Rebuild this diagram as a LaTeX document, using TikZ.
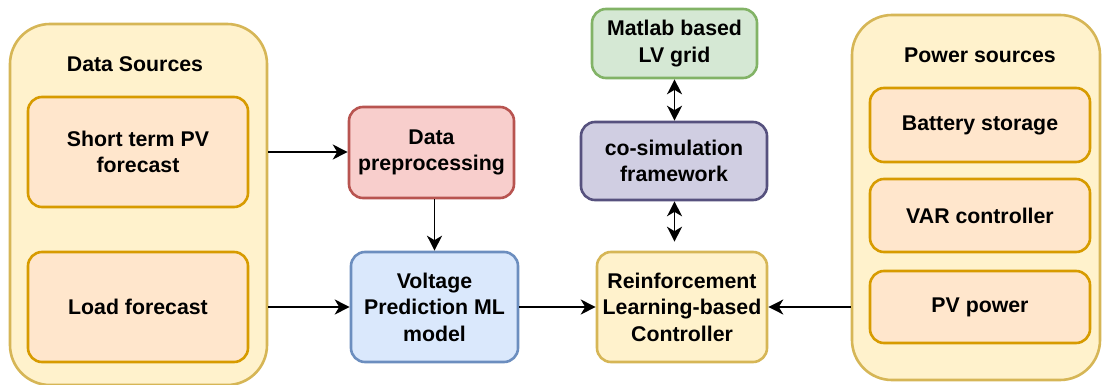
\documentclass[tikz,border=0pt]{standalone}
\usepackage{fontspec}
\setmainfont{Liberation Sans}
\usetikzlibrary{arrows.meta}
\definecolor{ylwfill}{HTML}{FFF2CC}\definecolor{ylwline}{HTML}{D6B656}
\definecolor{orgfill}{HTML}{FFE6CC}\definecolor{orgline}{HTML}{D79B00}
\definecolor{redfill}{HTML}{F8CECC}\definecolor{redline}{HTML}{B85450}
\definecolor{blufill}{HTML}{DAE8FC}\definecolor{bluline}{HTML}{6C8EBF}
\definecolor{grnfill}{HTML}{D5E8D4}\definecolor{grnline}{HTML}{82B366}
\definecolor{purfill}{HTML}{D0CEE2}\definecolor{purline}{HTML}{56517E}
\tikzset{
  blk/.style={rectangle, rounded corners=14pt, line width=2.6pt, inner sep=0pt,
    align=center, font=\fontsize{21.3}{26.5}\selectfont\bfseries},
  group/.style={blk, rounded corners=40pt, draw=ylwline, fill=ylwfill},
  item/.style={blk, draw=orgline, fill=orgfill},
  title/.style={inner sep=0pt, font=\fontsize{21.3}{26.5}\selectfont\bfseries},
  tip/.style={},
  arr/.style={line width=1.5pt, -{Stealth[length=15pt,width=15pt,inset=4.5pt]}},
  darr/.style={line width=1.5pt, {Stealth[length=15pt,width=15pt,inset=4.5pt]}-{Stealth[length=15pt,width=15pt,inset=4.5pt]}}
}
\begin{document}
\begin{tikzpicture}[x=1pt,y=-1pt]
\useasboundingbox (0,0) rectangle (1102,385);
\fill[white] (0,0) rectangle (1102,385);

% input data group
\node[group, minimum width=257pt, minimum height=361pt] (ds) at (138.5,204.5) {};
\node[title] (dstitle) at (135,64) {Data Sources};
\node[item, minimum width=220pt, minimum height=110pt] (spv) at (138,152) {Short term PV\\forecast};
\node[item, minimum width=220pt, minimum height=110pt] (lf) at (138,307) {Load forecast};

% processing chain
\node[blk, draw=redline, fill=redfill, minimum width=165pt, minimum height=91pt] (dp) at (431.5,152.5) {Data\\preprocessing};
\node[blk, draw=bluline, fill=blufill, minimum width=167pt, minimum height=110pt] (vp) at (434.5,307) {Voltage\\Prediction ML\\model};
\node[blk, draw=ylwline, fill=ylwfill, minimum width=170pt, minimum height=110pt] (rl) at (682,307) {Reinforcement\\Learning-based\\Controller};
\node[blk, draw=purline, fill=purfill, minimum width=186pt, minimum height=78pt] (cs) at (674,161) {co-simulation\\framework};
\node[blk, draw=grnline, fill=grnfill, minimum width=165pt, minimum height=69pt] (ml) at (674.5,43.5) {Matlab based\\LV grid};

% power sources group
\node[group, minimum width=248pt, minimum height=365pt] (ps) at (976,197.5) {};
\node[title] (pstitle) at (980,55) {Power sources};
\node[item, minimum width=220pt, minimum height=74pt] (bs) at (980,125) {Battery storage};
\node[item, minimum width=220pt, minimum height=73pt] (var) at (980,215.5) {VAR controller};
\node[item, minimum width=220pt, minimum height=72pt] (pv) at (980,307) {PV power};

% connectors
\draw[arr] (ds.east |- spv) -- (dp.west |- spv);
\draw[arr] (ds.east |- lf) -- (vp.west);
\draw[arr] (vp.north |- dp.south) -- (vp.north);
\draw[arr] (vp.east) -- (rl.west);
\draw[arr] (ps.west |- rl) -- (rl.east);
\draw[darr] (ml.south) -- (ml.south |- cs.north);
\draw[darr, shorten >=9pt] (ml.south |- cs.south) -- (ml.south |- rl.north);
\end{tikzpicture}
\end{document}
